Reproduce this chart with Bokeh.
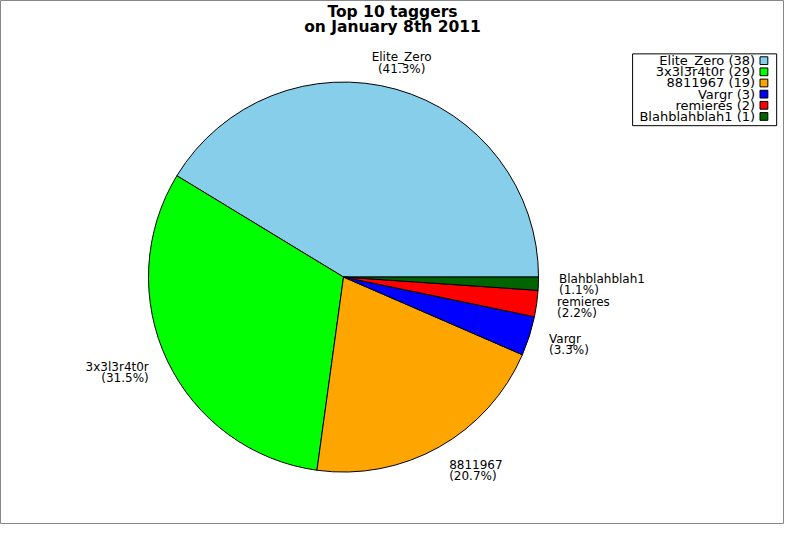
import math
from bokeh.plotting import figure
from bokeh.models import Range1d
from bokeh.core.properties import value
from bokeh.embed import file_html
from bokeh.resources import INLINE

# chart data
names = ["Elite_Zero", "3x3l3r4t0r", "8811967", "Vargr", "remieres", "Blahblahblah1"]
counts = [38, 29, 19, 3, 2, 1]
colors = ["#87CEEB", "#00FF00", "#FFA500", "#0000FF", "#FF0000", "#006400"]
title_lines = ["Top 10 taggers", "on January 8th 2011"]

# work in reference pixel units, y pointing up
W, H = 800, 540
cx, cy, r = 350, H - 285, 199

total = sum(counts)
starts, ends, mids = [], [], []
acc = 0.0
for c in counts:
    a0 = acc / total * 2 * math.pi
    acc += c
    a1 = acc / total * 2 * math.pi
    starts.append(a0)
    ends.append(a1)
    mids.append((a0 + a1) / 2)

p = figure(width=784, height=524, x_range=Range1d(0, W), y_range=Range1d(0, H),
           output_backend="svg", toolbar_location=None, min_border=0)
p.axis.visible = False
p.grid.visible = False
p.outline_line_color = "#888888"
p.background_fill_color = "white"

p.wedge(x=cx, y=cy, radius=r, start_angle=starts, end_angle=ends,
        fill_color=colors, line_color="black", line_width=1)

# slice labels
lx, ly, lt, la = [], [], [], []
for n, c, m in zip(names, counts, mids):
    cs, sn = math.cos(m), math.sin(m)
    lx.append(cx + 220 * cs)
    ly.append(cy + 229 * sn)
    lt.append("%s\n(%.1f%%)" % (n, 100.0 * c / total))
    la.append("center" if abs(cs) < 0.3 else ("left" if cs > 0 else "right"))
p.text(x=lx, y=ly, text=lt, text_align=la, text_baseline="middle",
       text_font=value("DejaVu Sans"), text_font_size="12px",
       text_line_height=0.8, text_color="black")

# title
p.text(x=[400], y=[H - 3], text=["\n".join(title_lines)], text_align="center",
       text_baseline="top", text_font=value("DejaVu Sans"), text_font_size="15.5px",
       text_font_style="bold", text_line_height=0.82, text_color="black")

# legend box
p.quad(left=[645], right=[792], top=[H - 55], bottom=[H - 129],
       fill_color="white", line_color="black", line_width=1)
rows = [H - 62 - 11.5 * i for i in range(len(names))]
p.text(x=[770] * len(names), y=rows,
       text=["%s (%d)" % (n, c) for n, c in zip(names, counts)],
       text_align="right", text_baseline="middle", text_font=value("DejaVu Sans"),
       text_font_size="13px", text_color="black")
p.rect(x=[779] * len(names), y=rows, width=8, height=8,
       fill_color=colors, line_color="black", line_width=1)

open("out.html", "w").write(file_html(p, INLINE))
